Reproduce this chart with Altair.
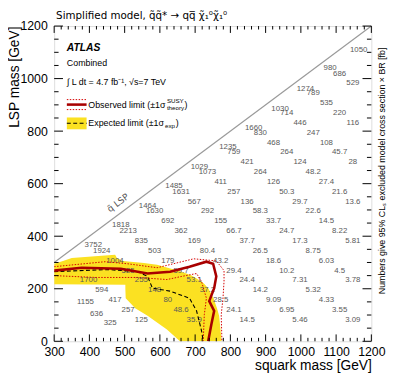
import altair as alt
import pandas as pd

# ---------------- data ----------------
# 95% CLs excluded cross sections [fb] and their grid positions (squark mass, LSP mass)
lab_text = [
    "3.09", "5.46", "14.5", "35.9", "125",
    "3.55", "6.95", "24.1", "48.6", "257",
    "4.33", "9.09", "28.5", "80", "417",
    "5.32", "14.2", "37.2", "148", "594",
    "3.78", "7.31", "24.4", "53.1", "255", "1700",
    "4.5", "10.2", "29.4", "59.7", "525",
    "6.03", "18.6", "43.2", "179", "1004",
    "8.75", "26.5", "80.4", "503", "1924",
    "5.81", "17.3", "37.7", "169", "835",
    "8.22", "24.7", "66.7", "362", "2213",
    "14.5", "33.7", "155", "692",
    "22.6", "58.3", "292", "1630",
    "13.6", "29.7", "136", "567",
    "21.6", "50.3", "257", "1631",
    "27.4", "126", "411",
    "48.2", "264", "1073",
    "28", "124", "421",
    "45.7", "264", "759",
    "108", "468",
    "247", "830",
    "116", "446",
    "220", "714",
    "535", "789", "529", "686",
    "325", "636", "1155", "3752", "1818", "1464", "1485", "1029",
    "1235", "1660", "1030", "1274", "980", "1050",
]
lab_msq = [
    1147.5, 997.5, 847.5, 697.5, 547.5,
    1110, 960, 810, 660, 510,
    1072.5, 922.5, 772.5, 622.5, 472.5,
    1035, 885, 735, 585, 435,
    1147.5, 997.5, 847.5, 697.5, 547.5, 397.5,
    1110, 960, 810, 660, 510,
    1072.5, 922.5, 772.5, 622.5, 472.5,
    1035, 885, 735, 585, 435,
    1147.5, 997.5, 847.5, 697.5, 547.5,
    1110, 960, 810, 660, 510,
    1072.5, 922.5, 772.5, 622.5,
    1035, 885, 735, 585,
    1147.5, 997.5, 847.5, 697.5,
    1110, 960, 810, 660,
    1072.5, 922.5, 772.5,
    1035, 885, 735,
    1147.5, 997.5, 847.5,
    1110, 960, 810,
    1072.5, 922.5,
    1035, 885,
    1147.5, 997.5,
    1110, 960,
    1072.5, 1035, 1147.5, 1110,
    459, 420, 389, 411, 489, 565, 640, 712,
    793, 866, 941, 1013, 1083, 1164,
]
lab_lsp = [
    81.5, 81.5, 81.5, 81.5, 81.5,
    119, 119, 119, 119, 119,
    156.5, 156.5, 156.5, 156.5, 156.5,
    194, 194, 194, 194, 194,
    231.5, 231.5, 231.5, 231.5, 231.5, 231.5,
    269, 269, 269, 269, 269,
    306.5, 306.5, 306.5, 306.5, 306.5,
    344, 344, 344, 344, 344,
    381.5, 381.5, 381.5, 381.5, 381.5,
    419, 419, 419, 419, 419,
    456.5, 456.5, 456.5, 456.5,
    494, 494, 494, 494,
    531.5, 531.5, 531.5, 531.5,
    569, 569, 569, 569,
    606.5, 606.5, 606.5,
    644, 644, 644,
    681.5, 681.5, 681.5,
    719, 719, 719,
    756.5, 756.5,
    794, 794,
    831.5, 831.5,
    869, 869,
    906.5, 944, 981.5, 1019,
    71, 105, 150, 366, 441, 516, 591, 665,
    740, 811, 886, 961, 1039, 1110,
]

# observed limit and its +-1 sigma(theory) lines
obs_msq = [300, 378, 489, 565, 629, 684, 732, 751, 760, 754, 740, 754, 746, 737]
obs_lsp = [269, 280, 276, 258, 265, 284, 303, 295, 247, 202, 153, 116, 64, 0]
obs_up_msq = [300, 445, 509, 592, 696, 760, 782, 782, 779, 774, 776]
obs_up_lsp = [284, 303, 295, 280, 314, 306, 269, 228, 164, 101, 0]
obs_dn_msq = [300, 417, 537, 620, 662, 704, 718, 732, 726, 723]
obs_dn_lsp = [250, 243, 243, 235, 247, 258, 228, 164, 101, 0]
# expected limit
exp_msq = [300, 370, 453, 537, 565, 579, 629, 684, 704, 718, 723]
exp_lsp = [265, 269, 273, 265, 247, 202, 191, 164, 116, 41, 0]
# expected +-1 sigma band (for each LSP mass: left and right squark-mass edge)
band_lsp = [0, 45, 97, 126, 164, 200, 215, 217, 228, 250, 265, 278, 291, 295, 298, 306, 317, 325, 329]
band_left = [657, 620, 565, 530, 503, 502, 502, 300, 300, 300, 300, 300, 300, 300, 307, 325, 350, 425, 473]
band_right = [775, 772, 768, 762, 752, 738, 728, 727, 718, 690, 662, 627, 592, 570, 555, 495, 478, 475, 473]

diag_msq = [300, 1200]
diag_lsp = [300, 1200]

x_major = [300, 400, 500, 600, 700, 800, 900, 1000, 1100, 1200]
x_minor = [v for v in range(300, 1201, 20) if v % 100 != 0]
y_major = [0, 200, 400, 600, 800, 1000, 1200]
y_minor = [v for v in range(0, 1201, 50) if v % 200 != 0]

TITLE = "Simplified model, q\u0303q\u0303* \u2192 qq\u0305 \u03c7\u0303\u2081\u2070\u03c7\u0303\u2081\u2070"

# ---------------- chart ----------------
W, H = 323, 321
FONT = "Liberation Sans"
YELLOW = "#fbe122"
xs = alt.Scale(domain=[300, 1200], nice=False, zero=False)
ys = alt.Scale(domain=[0, 1200], nice=False, zero=False)


def X(f):
    return alt.X(f, type="quantitative", scale=xs, axis=None)


def Y(f):
    return alt.Y(f, type="quantitative", scale=ys, axis=None)


def line_df(mx, ly):
    return pd.DataFrame({"m": mx, "l": ly, "i": list(range(len(mx)))})


band = alt.Chart(pd.DataFrame({"l": band_lsp, "a": band_left, "b": band_right})).mark_area(
    orient="horizontal", color=YELLOW, clip=True
).encode(y=Y("l"), x=X("a"), x2="b")

labels = alt.Chart(pd.DataFrame({"t": lab_text, "m": lab_msq, "l": lab_lsp})).mark_text(
    fontSize=8, color="#5a5a5a", font=FONT, align="center", baseline="middle"
).encode(x=X("m"), y=Y("l"), text="t:N")

diag = alt.Chart(line_df(diag_msq, diag_lsp)).mark_line(color="#9a9a9a", strokeWidth=1.2).encode(
    x=alt.X("m:Q", scale=xs, axis=alt.Axis(
        values=x_major, format="d", grid=False, ticks=False, tickSize=0, domain=False, labelPadding=4,
        labelFontSize=12.5, labelFont=FONT, labelColor="black", labelFlush=False,
        title="squark mass [GeV]", titleFont=FONT, titleFontSize=14, titleFontWeight="normal",
        titleColor="black", titleAlign="right", titleX=W, titleY=25, titleBaseline="middle")),
    y=alt.Y("l:Q", scale=ys, axis=alt.Axis(
        values=y_major, format="d", grid=False, ticks=False, tickSize=0, domain=False, labelPadding=7,
        labelFontSize=12.5, labelFont=FONT, labelColor="black", labelFlush=False,
        title="LSP mass [GeV]", titleFont=FONT, titleFontSize=14, titleFontWeight="normal",
        titleColor="black", titleAngle=270, titleAlign="right", titleX=-40, titleY=0,
        titleBaseline="middle")),
    order="i:Q",
)

diag_lab = alt.Chart(pd.DataFrame({"m": [481], "l": [527], "t": ["q\u0303 LSP"]})).mark_text(
    angle=323, fontSize=9, color="#555555", font="DejaVu Sans", align="center", baseline="middle"
).encode(x=X("m"), y=Y("l"), text="t:N")

exp_line = alt.Chart(line_df(exp_msq, exp_lsp)).mark_line(
    color="black", strokeWidth=1.1, strokeDash=[4, 2.5], clip=True
).encode(x=X("m"), y=Y("l"), order="i:Q")

obs_up = alt.Chart(line_df(obs_up_msq, obs_up_lsp)).mark_line(
    color="#d40000", strokeWidth=1, strokeDash=[1.5, 1.5], clip=True
).encode(x=X("m"), y=Y("l"), order="i:Q")
obs_dn = alt.Chart(line_df(obs_dn_msq, obs_dn_lsp)).mark_line(
    color="#d40000", strokeWidth=1, strokeDash=[1.5, 1.5], clip=True
).encode(x=X("m"), y=Y("l"), order="i:Q")
obs_line = alt.Chart(line_df(obs_msq, obs_lsp)).mark_line(
    color="#a80000", strokeWidth=2.6, clip=True
).encode(x=X("m"), y=Y("l"), order="i:Q")

# title line above the frame
title_txt = alt.Chart(pd.DataFrame({"m": [300], "t": [TITLE]})).mark_text(
    fontSize=10.5, font="DejaVu Sans", align="left", baseline="alphabetic", color="black", dx=2
).encode(x=X("m"), y=alt.value(-7), text="t:N")

# annotation block (upper left)
ann_m = [336, 336, 336]
ann_l = [1118, 1058, 987]
atlas = alt.Chart(pd.DataFrame({"m": ann_m[:1], "l": ann_l[:1], "t": ["ATLAS"]})).mark_text(
    fontSize=10.5, fontWeight="bold", fontStyle="italic", font=FONT, align="left", baseline="middle",
    color="black").encode(x=X("m"), y=Y("l"), text="t:N")
ann2 = alt.Chart(pd.DataFrame({"m": ann_m[1:], "l": ann_l[1:],
                               "t": ["Combined", "\u222b L dt = 4.7 fb\u207b\u00b9, \u221as=7 TeV"]})).mark_text(
    fontSize=9, font=FONT, align="left", baseline="middle", color="black"
).encode(x=X("m"), y=Y("l"), text="t:N")

leg_box = alt.Chart(pd.DataFrame({"a": [336], "b": [392], "c": [807], "d": [852]})).mark_rect(
    color=YELLOW).encode(x=X("a"), x2="b", y=Y("c"), y2="d")
leg_exp = alt.Chart(line_df([336, 392], [830, 830])).mark_line(
    color="black", strokeWidth=1.1, strokeDash=[4, 2.5]).encode(x=X("m"), y=Y("l"), order="i:Q")
leg_obs = alt.Chart(line_df([336, 392], [901, 901])).mark_line(
    color="#a80000", strokeWidth=2.6).encode(x=X("m"), y=Y("l"), order="i:Q")
leg_obs_up = alt.Chart(line_df([336, 392], [920, 920])).mark_line(
    color="#d40000", strokeWidth=1, strokeDash=[1.5, 1.5]).encode(x=X("m"), y=Y("l"), order="i:Q")
leg_obs_dn = alt.Chart(line_df([336, 392], [882, 882])).mark_line(
    color="#d40000", strokeWidth=1, strokeDash=[1.5, 1.5]).encode(x=X("m"), y=Y("l"), order="i:Q")


def leg_text(t, l, dx=0, dy=0, size=9):
    return alt.Chart(pd.DataFrame({"m": [397], "l": [l], "t": [t]})).mark_text(
        fontSize=size, font=FONT, align="left", baseline="middle", color="black", dx=dx, dy=dy
    ).encode(x=X("m"), y=Y("l"), text="t:N")


leg_texts = [
    leg_text("Observed limit (\u00b11\u03c3", 901),
    leg_text("SUSY", 901, dx=80, dy=-4, size=6.3),
    leg_text("theory", 901, dx=80, dy=4, size=6.3),
    leg_text(")", 901, dx=98),
    leg_text("Expected limit (\u00b11\u03c3", 830),
    leg_text("exp", 830, dx=78, dy=3, size=6.3),
    leg_text(")", 830, dx=89),
]

# inward tick marks on all four sides
tx_major = pd.DataFrame({"v": x_major})
tx_minor = pd.DataFrame({"v": x_minor})
ty_major = pd.DataFrame({"v": y_major})
ty_minor = pd.DataFrame({"v": y_minor})
tk = dict(color="black", strokeWidth=1)
ticks = [
    alt.Chart(tx_major).mark_rule(**tk).encode(x=X("v"), y=alt.value(H), y2=alt.value(H - 7)),
    alt.Chart(tx_minor).mark_rule(**tk).encode(x=X("v"), y=alt.value(H), y2=alt.value(H - 3.5)),
    alt.Chart(tx_major).mark_rule(**tk).encode(x=X("v"), y=alt.value(0), y2=alt.value(7)),
    alt.Chart(tx_minor).mark_rule(**tk).encode(x=X("v"), y=alt.value(0), y2=alt.value(3.5)),
    alt.Chart(ty_major).mark_rule(**tk).encode(y=Y("v"), x=alt.value(0), x2=alt.value(9)),
    alt.Chart(ty_minor).mark_rule(**tk).encode(y=Y("v"), x=alt.value(0), x2=alt.value(4.5)),
    alt.Chart(ty_minor).mark_rule(**tk).encode(y=Y("v"), x=alt.value(W), x2=alt.value(W - 4.5)),
]
right_axis = alt.Chart(ty_major).mark_rule(**tk).encode(
    x=alt.value(W), x2=alt.value(W - 9),
    y=alt.Y("v:Q", scale=ys, axis=alt.Axis(
        orient="right", labels=False, ticks=False, domain=False, grid=False,
        title="Numbers give 95% CL\u209b excluded model cross section \u00d7 BR [fb]",
        titleFont=FONT, titleFontSize=9, titleFontWeight="normal", titleColor="black",
        titleAngle=270, titleAlign="center", titleBaseline="middle", titleX=10, titleY=147)),
)

chart = alt.layer(
    band, labels, diag, diag_lab, exp_line, obs_up, obs_dn, obs_line, title_txt,
    atlas, ann2, leg_box, leg_exp, leg_obs_up, leg_obs_dn, leg_obs, *leg_texts, *ticks, right_axis,
).resolve_axis(x="independent", y="independent").properties(
    width=W, height=H,
    padding={"left": 47, "top": 15, "right": 20, "bottom": 34},
    autosize=alt.AutoSizeParams(type="none"),
).configure_view(stroke="black", strokeWidth=1).configure(background="white")

chart.save("out.html", embed_options={"renderer": "svg", "actions": False})
